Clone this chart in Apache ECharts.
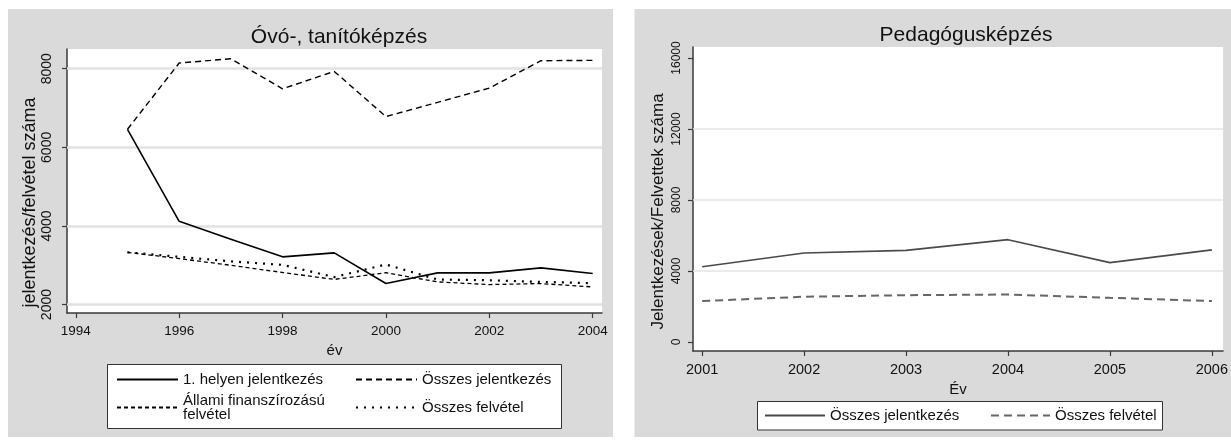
<!DOCTYPE html>
<html>
<head>
<meta charset="utf-8">
<script src="https://cdn.jsdelivr.net/npm/echarts@6/dist/echarts.min.js"></script>
<style>
html,body{margin:0;padding:0;background:#fff;}
#chart{width:1231px;height:442px;}
</style>
</head>
<body>
<div id="chart"></div>
<script>
// ---------- DATA ----------
const leftTitle = 'Óvó-, tanítóképzés';
const rightTitle = 'Pedagógusképzés';
const leftYears = [1995, 1996, 1997, 1998, 1999, 2000, 2001, 2002, 2003, 2004];
const elsoHelyenJelentkezes = [6460, 4119, 3665, 3214, 3316, 2536, 2806, 2806, 2934, 2791];
const osszesJelentkezesLeft = [6460, 8145, 8255, 7490, 7932, 6783, 7145, 7507, 8204, 8213];
const allamiFelvetel = [3330, 3170, 3000, 2816, 2640, 2810, 2577, 2509, 2535, 2450];
const osszesFelvetelLeft = [3330, 3215, 3100, 3010, 2700, 3020, 2637, 2620, 2577, 2545];

const rightYears = [2001, 2002, 2003, 2004, 2005, 2006];
const osszesJelentkezesRight = [4240, 5010, 5160, 5765, 4470, 5190];
const osszesFelvetelRight = [2305, 2550, 2635, 2675, 2485, 2305];

const leftXTicks = [1994, 1996, 1998, 2000, 2002, 2004];
const leftYTicks = [2000, 4000, 6000, 8000];
const leftGridLines = [2000, 4000, 6000, 8000];
const rightXTicks = [2001, 2002, 2003, 2004, 2005, 2006];
const rightYTicks = [0, 4000, 8000, 12000, 16000];
const rightGridLines = [4000, 8000, 12000];

const leftNames = ['1. helyen jelentkezés', 'Összes jelentkezés', 'Állami finanszírozású felvétel', 'Összes felvétel'];
const rightNames = ['Összes jelentkezés ', 'Összes felvétel '];

// ---------- STYLE ----------
const FONT = '"Liberation Sans", Arial, sans-serif';
const TXT = '#111';
const AX = '#3a3a3a';
const PANEL = '#dadada';

function pairs(xs, ys) { return xs.map((x, i) => [x, ys[i]]); }

function xAxisCfg(gridIndex, min, max, ticks, name, nameGap, labelSize) {
  return {
    type: 'value', gridIndex, min, max,
    name, nameLocation: 'middle', nameGap,
    nameTextStyle: { fontFamily: FONT, fontSize: 15, color: TXT },
    axisLine: { show: true, onZero: false, lineStyle: { color: AX, width: 1.5 } },
    axisTick: { show: true, length: 5, customValues: ticks, lineStyle: { color: AX, width: 1.2 } },
    axisLabel: { customValues: ticks, margin: 11, fontFamily: FONT, fontSize: labelSize, color: TXT,
      formatter: v => String(v), showMinLabel: true, showMaxLabel: true },
    splitLine: { show: false }
  };
}
function yAxisCfg(gridIndex, min, max, ticks, name, nameGap, nameSize, labelMargin, labelSize, shift) {
  return {
    type: 'value', gridIndex, min, max,
    name, nameLocation: 'middle', nameGap, nameRotate: 90,
    nameTextStyle: { fontFamily: FONT, fontSize: nameSize, color: TXT, padding: [0, shift, 0, 0] },
    axisLine: { show: true, onZero: false, lineStyle: { color: AX, width: 1.5 } },
    axisTick: { show: true, length: 5, customValues: ticks, lineStyle: { color: AX, width: 1.2 } },
    axisLabel: { customValues: ticks, rotate: 90, margin: labelMargin, fontFamily: FONT, fontSize: labelSize, color: TXT,
      formatter: v => String(v) },
    splitLine: { show: false }
  };
}

function lineSeries(name, xi, yi, data, color, width, type, z) {
  return {
    name, type: 'line', xAxisIndex: xi, yAxisIndex: yi,
    data, symbol: 'none', showSymbol: false, smooth: false, z: z || 3,
    lineStyle: { color, width, type, cap: 'butt' },
    itemStyle: { color },
    emphasis: { disabled: true }
  };
}
function gridMarks(values, color, width) {
  return {
    silent: true, symbol: 'none', z: 1,
    label: { show: false },
    lineStyle: { color, width, type: 'solid' },
    emphasis: { disabled: true },
    data: values.map(v => ({ yAxis: v }))
  };
}

const legendCommon = {
  padding: 0, itemHeight: 14, itemGap: 0, selectedMode: false,
  itemStyle: { opacity: 0, color: 'transparent', borderWidth: 0 },
  textStyle: { fontFamily: FONT, fontSize: 15, color: TXT, lineHeight: 14 }
};

const s1 = lineSeries(leftNames[0], 0, 0, pairs(leftYears, elsoHelyenJelentkezes), '#000', 1.6, 'solid', 4);
s1.markLine = gridMarks(leftGridLines, '#e2e2e2', 2.5);

const option = {
  animation: false,
  backgroundColor: '#ffffff',
  graphic: [
    { type: 'rect', z: -10, silent: true, shape: { x: 8, y: 9, width: 605, height: 428 }, style: { fill: PANEL } },
    { type: 'rect', z: -10, silent: true, shape: { x: 634.5, y: 9, width: 600, height: 428 }, style: { fill: PANEL } },
    { type: 'rect', z: 1, silent: true, shape: { x: 107.5, y: 364.5, width: 454, height: 64 }, style: { fill: '#fff', stroke: '#333', lineWidth: 1 } },
    { type: 'rect', z: 1, silent: true, shape: { x: 757.5, y: 401.5, width: 405, height: 28.5 }, style: { fill: '#fff', stroke: '#333', lineWidth: 1 } }
  ],
  title: [
    { text: leftTitle, left: 334, top: 22, textAlign: 'center',
      textStyle: { fontFamily: FONT, fontSize: 21, fontWeight: 'normal', color: TXT } },
    { text: rightTitle, left: 961, top: 20, textAlign: 'center',
      textStyle: { fontFamily: FONT, fontSize: 21, fontWeight: 'normal', color: TXT } }
  ],
  grid: [
    { left: 67, top: 49, right: 1231 - 602, bottom: 442 - 313, show: true, backgroundColor: '#fff', borderWidth: 0, containLabel: false },
    { left: 693, top: 47, right: 2, bottom: 442 - 351, show: true, backgroundColor: '#fff', borderWidth: 0, containLabel: false }
  ],
  xAxis: [
    xAxisCfg(0, 1993.83, 2004.18, leftXTicks, 'év', 30, 13.5),
    xAxisCfg(1, 2000.91, 2006.11, rightXTicks, 'Év', 27, 14.5)
  ],
  yAxis: [
    yAxisCfg(0, 1786, 8502, leftYTicks, 'jelentkezés/felvétel száma', 26, 18, 13, 14, 43),
    yAxisCfg(1, -509, 16622, rightYTicks, 'Jelentkezések/Felvettek száma', 26, 17, 10, 12, 25)
  ],
  legend: [
    Object.assign({}, legendCommon, { data: [leftNames[0]], left: 116, top: 372, itemWidth: 61 }),
    Object.assign({}, legendCommon, { data: [leftNames[1]], left: 355, top: 372, itemWidth: 61 }),
    Object.assign({}, legendCommon, { data: [leftNames[2]], left: 116, top: 393, itemWidth: 61,
      formatter: n => 'Állami finanszírozású\nfelvétel' }),
    Object.assign({}, legendCommon, { data: [leftNames[3]], left: 355, top: 400, itemWidth: 61 }),
    Object.assign({}, legendCommon, { data: [rightNames[0]], left: 764, top: 408, itemWidth: 60, formatter: n => n.trim() }),
    Object.assign({}, legendCommon, { data: [rightNames[1]], left: 990, top: 408, itemWidth: 59, formatter: n => n.trim() })
  ],
  series: [
    s1,
    lineSeries(leftNames[1], 0, 0, pairs(leftYears, osszesJelentkezesLeft), '#000', 1.4, [6, 4], 4),
    lineSeries(leftNames[2], 0, 0, pairs(leftYears, allamiFelvetel), '#000', 1.3, [4, 3], 4),
    lineSeries(leftNames[3], 0, 0, pairs(leftYears, osszesFelvetelLeft), '#000', 2.2, [2, 6], 4),
    Object.assign(lineSeries(rightNames[0], 1, 1, pairs(rightYears, osszesJelentkezesRight), '#4a4a4a', 1.6, 'solid', 4),
      { markLine: gridMarks(rightGridLines, '#e4e4e4', 1.5) }),
    lineSeries(rightNames[1], 1, 1, pairs(rightYears, osszesFelvetelRight), '#666', 2, [8, 5], 4)
  ]
};

const chart = echarts.init(document.getElementById('chart'), null, { renderer: 'canvas' });
chart.setOption(option);
</script>
</body>
</html>
